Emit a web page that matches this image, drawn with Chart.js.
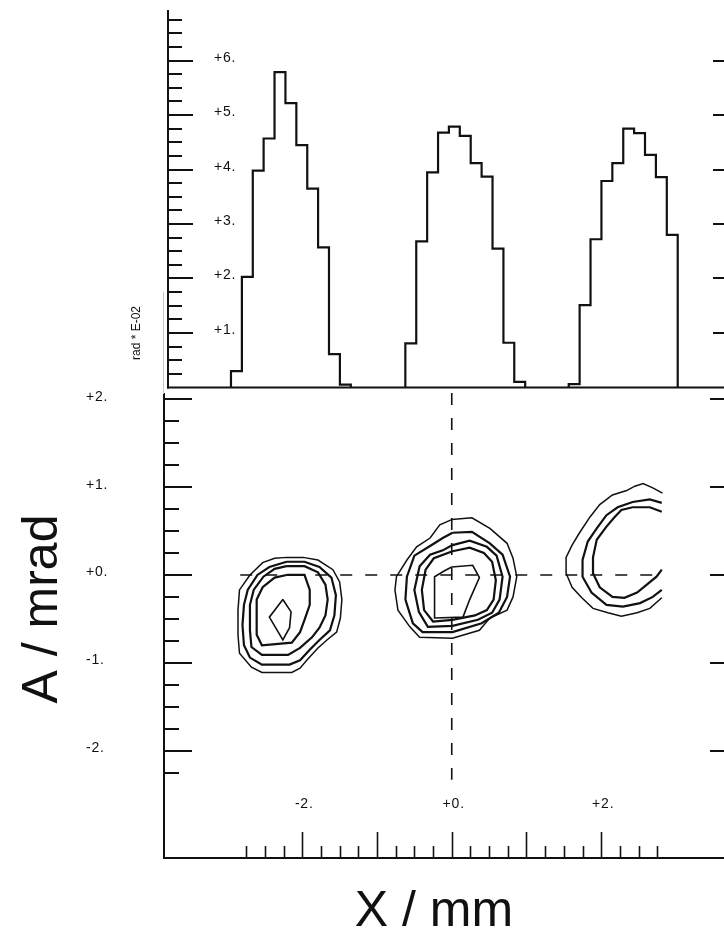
<!DOCTYPE html>
<html>
<head>
<meta charset="utf-8">
<script src="https://cdn.jsdelivr.net/npm/chart.js@4/dist/chart.umd.min.js"></script>
<style>
  html, body { margin: 0; padding: 0; background: #fff; overflow: hidden; }
  #wrap { position: relative; width: 724px; height: 932px; overflow: hidden; background: #fff; }
  #wrap canvas { position: absolute; left: 0; top: 0; }
</style>
</head>
<body>
<div id="wrap">
  <canvas id="phase" width="760" height="932"></canvas>
  <canvas id="hist" width="760" height="400"></canvas>
</div>
<script>
// ---------- angular projection histogram (rad * E-02), three beamlets ----------
const histEdgesA = [-2.957, -2.811, -2.665, -2.520, -2.374, -2.228, -2.082, -1.936, -1.791, -1.645, -1.499, -1.353];
const histValsA  = [0.30, 2.03, 3.98, 4.57, 5.79, 5.22, 4.45, 3.65, 2.57, 0.61, 0.05];
const histEdgesB = [-0.623, -0.477, -0.331, -0.185, -0.040, 0.106, 0.252, 0.398, 0.544, 0.690, 0.835, 0.981];
const histValsB  = [0.81, 2.68, 3.95, 4.68, 4.79, 4.62, 4.12, 3.87, 2.55, 0.82, 0.10];
const histEdgesC = [1.564, 1.710, 1.856, 2.002, 2.148, 2.294, 2.439, 2.585, 2.731, 2.877, 3.023];
const histValsC  = [0.06, 1.51, 2.72, 3.79, 4.12, 4.75, 4.67, 4.27, 3.86, 2.80];

const histTicksMajor = [1, 2, 3, 4, 5, 6];
const histTickLabels = ['+1.', '+2.', '+3.', '+4.', '+5.', '+6.'];
const histTicksMinor = [0.25, 0.5, 0.75, 1.25, 1.5, 1.75, 2.25, 2.5, 2.75, 3.25, 3.5, 3.75,
                        4.25, 4.5, 4.75, 5.25, 5.5, 5.75, 6.25, 6.5, 6.75];

// ---------- phase space (X / mm, A / mrad) ----------
const aTicksMajor = [2, 1, 0, -1, -2];
const aTickLabels = ['+2.', '+1.', '+0.', '-1.', '-2.'];
const aTicksMinor = [1.75, 1.5, 1.25, 0.75, 0.5, 0.25, -0.25, -0.5, -0.75, -1.25, -1.5, -1.75, -2.25];
const xTicksMajor = [-2, -1, 0, 1, 2];
const xTicksMinor = [-2.75, -2.5, -2.25, -1.75, -1.5, -1.25, -0.75, -0.5, -0.25,
                     0.25, 0.5, 0.75, 1.25, 1.5, 1.75, 2.25, 2.5, 2.75];
const xTickLabelValues = [-2, 0, 2];
const xTickLabels = ['-2.', '+0.', '+2.'];

// reference cross-hair through the origin
const crossVertical = [[0, 2.07], [0, -2.33]];
const crossHorizontal = [[-2.83, 0], [2.82, 0]];

// contour levels, outermost first: left beamlet
const left1 = [[-2.21,0.20],[-1.99,0.20],[-1.79,0.17],[-1.59,0.06],[-1.50,-0.08],[-1.47,-0.28],[-1.49,-0.49],[-1.54,-0.65],[-1.67,-0.74],[-1.79,-0.83],[-1.94,-0.97],[-2.03,-1.06],[-2.14,-1.11],[-2.54,-1.11],[-2.68,-1.05],[-2.84,-0.89],[-2.86,-0.68],[-2.86,-0.40],[-2.84,-0.17],[-2.70,0.00],[-2.53,0.14],[-2.37,0.19]];
const left2 = [[-2.21,0.15],[-1.97,0.15],[-1.77,0.09],[-1.61,-0.03],[-1.55,-0.23],[-1.57,-0.46],[-1.63,-0.63],[-1.77,-0.74],[-1.90,-0.85],[-2.03,-0.97],[-2.17,-1.02],[-2.54,-1.02],[-2.70,-0.94],[-2.78,-0.80],[-2.80,-0.57],[-2.78,-0.34],[-2.73,-0.17],[-2.60,0.00],[-2.44,0.09]];
const left3 = [[-2.21,0.10],[-1.97,0.10],[-1.79,0.03],[-1.69,-0.11],[-1.66,-0.28],[-1.69,-0.46],[-1.77,-0.60],[-1.87,-0.71],[-2.03,-0.83],[-2.19,-0.91],[-2.54,-0.91],[-2.68,-0.82],[-2.70,-0.63],[-2.70,-0.34],[-2.65,-0.17],[-2.52,-0.02],[-2.37,0.07]];
const left4 = [[-2.21,0.00],[-1.97,0.00],[-1.90,-0.17],[-1.90,-0.34],[-1.97,-0.51],[-2.03,-0.65],[-2.14,-0.77],[-2.54,-0.80],[-2.61,-0.68],[-2.61,-0.28],[-2.53,-0.14],[-2.37,-0.03]];
const left5 = [[-2.26,-0.28],[-2.15,-0.42],[-2.17,-0.60],[-2.26,-0.74],[-2.44,-0.48]];

// centre beamlet
const mid1 = [[0.00,0.63],[0.27,0.65],[0.51,0.53],[0.74,0.36],[0.82,0.19],[0.87,-0.02],[0.82,-0.25],[0.74,-0.40],[0.51,-0.49],[0.37,-0.63],[0.01,-0.72],[-0.43,-0.71],[-0.56,-0.59],[-0.72,-0.40],[-0.76,-0.17],[-0.74,-0.02],[-0.60,0.17],[-0.47,0.32],[-0.29,0.42],[-0.16,0.57]];
const mid2 = [[0.01,0.48],[0.27,0.49],[0.51,0.36],[0.68,0.23],[0.78,-0.02],[0.74,-0.25],[0.63,-0.43],[0.40,-0.55],[0.01,-0.65],[-0.39,-0.65],[-0.52,-0.55],[-0.62,-0.28],[-0.60,-0.02],[-0.50,0.22],[-0.29,0.33],[-0.12,0.42]];
const mid3 = [[0.01,0.34],[0.24,0.39],[0.47,0.32],[0.60,0.22],[0.68,-0.02],[0.64,-0.28],[0.54,-0.43],[0.35,-0.51],[0.01,-0.58],[-0.32,-0.59],[-0.44,-0.42],[-0.50,-0.17],[-0.43,0.10],[-0.29,0.23],[-0.12,0.28]];
const mid4 = [[0.01,0.27],[0.24,0.31],[0.43,0.25],[0.54,0.15],[0.59,-0.06],[0.56,-0.28],[0.47,-0.40],[0.31,-0.46],[0.01,-0.51],[-0.25,-0.53],[-0.37,-0.40],[-0.40,-0.17],[-0.35,0.06],[-0.24,0.19]];
const mid5 = [[0.00,0.09],[0.28,0.11],[0.37,-0.03],[0.24,-0.28],[0.15,-0.48],[-0.23,-0.49],[-0.23,-0.02],[-0.09,0.05]];

// right beamlet (open at the edge of the mapped region)
const right1 = [[2.82,0.93],[2.69,0.99],[2.56,1.04],[2.45,1.01],[2.34,0.96],[2.15,0.91],[1.98,0.80],[1.85,0.66],[1.71,0.48],[1.61,0.34],[1.53,0.20],[1.53,0.02],[1.61,-0.14],[1.74,-0.26],[1.89,-0.38],[2.09,-0.43],[2.27,-0.47],[2.48,-0.43],[2.65,-0.38],[2.81,-0.26]];
const right2 = [[2.81,0.82],[2.65,0.86],[2.42,0.83],[2.22,0.77],[2.07,0.68],[1.94,0.53],[1.82,0.38],[1.75,0.17],[1.75,-0.02],[1.87,-0.20],[2.07,-0.34],[2.29,-0.36],[2.52,-0.32],[2.69,-0.25],[2.81,-0.17]];
const right3 = [[2.81,0.72],[2.65,0.77],[2.42,0.77],[2.27,0.74],[2.18,0.66],[2.07,0.55],[1.94,0.40],[1.89,0.20],[1.89,0.02],[1.98,-0.14],[2.15,-0.25],[2.31,-0.26],[2.48,-0.20],[2.61,-0.11],[2.74,-0.02],[2.81,0.06]];

const FONT = '"Liberation Sans", Arial, Helvetica, sans-serif';
const INK = '#111';

function stepPoints(edges, vals) {
  const pts = [{ x: edges[0], y: 0 }];
  vals.forEach((v, i) => pts.push({ x: edges[i], y: v }));
  pts.push({ x: edges[edges.length - 1], y: 0 });
  return pts;
}
function ringPoints(ring, closed) {
  const pts = ring.map(p => ({ x: p[0], y: p[1] }));
  if (closed) pts.push({ x: ring[0][0], y: ring[0][1] });
  return pts;
}
function hLine(ctx, x0, x1, y) { ctx.beginPath(); ctx.moveTo(x0, y); ctx.lineTo(x1, y); ctx.stroke(); }
function vLine(ctx, x, y0, y1) { ctx.beginPath(); ctx.moveTo(x, y0); ctx.lineTo(x, y1); ctx.stroke(); }

// ---------- histogram panel ----------
const histFrame = {
  id: 'histFrame',
  afterDatasetsDraw(chart) {
    const { ctx, chartArea: a, scales: { y } } = chart;
    ctx.save();
    ctx.strokeStyle = INK;
    ctx.lineWidth = 2;
    vLine(ctx, a.left, a.top, a.bottom + 1);
    hLine(ctx, a.left - 1, chart.width, a.bottom);
    histTicksMajor.forEach(v => {
      const py = Math.round(y.getPixelForValue(v));
      hLine(ctx, a.left, a.left + 25, py);
      hLine(ctx, a.right - 25, a.right, py);
    });
    histTicksMinor.forEach(v => {
      const py = Math.round(y.getPixelForValue(v));
      hLine(ctx, a.left, a.left + 14, py);
    });
    ctx.fillStyle = INK;
    ctx.font = '14px ' + FONT;
    ctx.letterSpacing = '0.8px';
    ctx.textAlign = 'left';
    ctx.textBaseline = 'alphabetic';
    histTicksMajor.forEach((v, i) => {
      ctx.fillText(histTickLabels[i], a.left + 46, y.getPixelForValue(v) + 1);
    });
    ctx.letterSpacing = '0px';
    // unit label
    ctx.save();
    ctx.translate(140, 333);
    ctx.rotate(-Math.PI / 2);
    ctx.font = '12px ' + FONT;
    ctx.textAlign = 'center';
    ctx.fillText('rad * E-02', 0, 0);
    ctx.restore();
    ctx.strokeStyle = '#c8c8c8';
    ctx.lineWidth = 1;
    vLine(ctx, 163.5, 292, 394);
    ctx.restore();
  }
};

const histStyle = { borderColor: INK, borderWidth: 2.2, stepped: true, pointRadius: 0, fill: false, tension: 0 };
new Chart(document.getElementById('hist'), {
  type: 'line',
  data: {
    datasets: [
      Object.assign({ data: stepPoints(histEdgesA, histValsA) }, histStyle),
      Object.assign({ data: stepPoints(histEdgesB, histValsB) }, histStyle),
      Object.assign({ data: stepPoints(histEdgesC, histValsC) }, histStyle)
    ]
  },
  options: {
    responsive: false,
    animation: false,
    events: [],
    layout: { padding: { left: 168, top: 10, right: 22, bottom: 12.6 } },
    scales: {
      x: { type: 'linear', min: -3.80, max: 3.83, display: false },
      y: { type: 'linear', min: 0, max: 6.93, display: false }
    },
    plugins: { legend: { display: false }, tooltip: { enabled: false } }
  },
  plugins: [histFrame]
});

// ---------- phase-space contour panel ----------
const phaseFrame = {
  id: 'phaseFrame',
  afterDatasetsDraw(chart) {
    const { ctx, chartArea: a, scales: { x, y } } = chart;
    ctx.save();
    ctx.strokeStyle = INK;
    ctx.lineWidth = 2;
    vLine(ctx, a.left, a.top, a.bottom + 1);
    hLine(ctx, a.left - 1, chart.width, a.bottom);
    aTicksMajor.forEach(v => {
      const py = Math.round(y.getPixelForValue(v));
      hLine(ctx, a.left, a.left + 28, py);
      hLine(ctx, a.right - 28, a.right, py);
    });
    aTicksMinor.forEach(v => {
      const py = Math.round(y.getPixelForValue(v));
      hLine(ctx, a.left, a.left + 15, py);
    });
    ctx.lineWidth = 1.6;
    xTicksMajor.forEach(v => {
      const px = Math.round(x.getPixelForValue(v)) + 0.5;
      vLine(ctx, px, a.bottom, a.bottom - 26);
    });
    xTicksMinor.forEach(v => {
      const px = Math.round(x.getPixelForValue(v)) + 0.5;
      vLine(ctx, px, a.bottom, a.bottom - 12);
    });
    ctx.fillStyle = INK;
    ctx.font = '14px ' + FONT;
    ctx.letterSpacing = '0.8px';
    ctx.textBaseline = 'alphabetic';
    ctx.textAlign = 'left';
    aTicksMajor.forEach((v, i) => {
      ctx.fillText(aTickLabels[i], 86, y.getPixelForValue(v) + 1.5);
    });
    ctx.textAlign = 'center';
    xTickLabelValues.forEach((v, i) => {
      ctx.fillText(xTickLabels[i], x.getPixelForValue(v) + 2, a.bottom - 50);
    });
    ctx.letterSpacing = '0px';
    // axis titles
    ctx.font = '50px ' + FONT;
    ctx.textAlign = 'center';
    ctx.fillText('X / mm', 434, 926);
    ctx.save();
    ctx.translate(57, 609);
    ctx.rotate(-Math.PI / 2);
    ctx.fillText('A / mrad', 0, 0);
    ctx.restore();
    ctx.restore();
  }
};

function contour(ring, closed, width) {
  return { data: ringPoints(ring, closed), borderColor: INK, borderWidth: width, pointRadius: 0, fill: false, tension: 0 };
}
function dashed(seg) {
  return { data: ringPoints(seg, false), borderColor: INK, borderWidth: 1.6, borderDash: [12, 13], pointRadius: 0, fill: false, tension: 0 };
}

new Chart(document.getElementById('phase'), {
  type: 'line',
  data: {
    datasets: [
      dashed(crossVertical), dashed(crossHorizontal),
      contour(left1, true, 1.5), contour(left2, true, 2.2), contour(left3, true, 2.2), contour(left4, true, 2.2), contour(left5, true, 1.6),
      contour(mid1, true, 1.5), contour(mid2, true, 2.2), contour(mid3, true, 2.2), contour(mid4, true, 2.2), contour(mid5, true, 1.6),
      contour(right1, false, 1.5), contour(right2, false, 2.2), contour(right3, false, 2.2)
    ]
  },
  options: {
    responsive: false,
    animation: false,
    events: [],
    layout: { padding: { left: 164, top: 393, right: 22, bottom: 74 } },
    scales: {
      x: { type: 'linear', min: -3.85, max: 3.83, display: false },
      y: { type: 'linear', min: -3.22, max: 2.07, display: false }
    },
    plugins: { legend: { display: false }, tooltip: { enabled: false } }
  },
  plugins: [phaseFrame]
});
</script>
</body>
</html>
